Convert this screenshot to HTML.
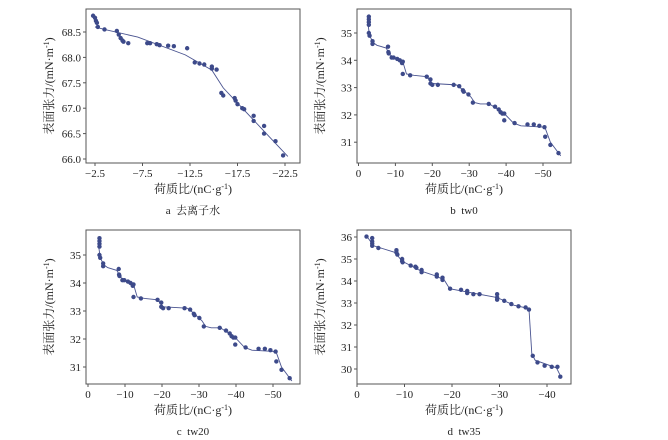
<!DOCTYPE html>
<html><head><meta charset="utf-8"><style>
html,body{margin:0;padding:0;background:#fff}
svg{display:block}
text{font-family:"Liberation Serif","Noto Serif CJK SC",serif;fill:#222}
</style></head><body>
<svg id="s" width="668" height="440" xmlns="http://www.w3.org/2000/svg"></svg>
<script>
const S=document.getElementById('s');let h='';
function panel(o){
 const X=v=>o.x0+(v-o.xv0)*o.sx, Y=v=>o.y0-(v-o.yv0)*o.sy;
 h+=`<rect x="${o.L}" y="${o.T}" width="${o.R-o.L}" height="${o.B-o.T}" fill="none" stroke="#555" stroke-width="1"/>`;
 o.xt.forEach(([v,l])=>{const x=X(v);h+=`<line x1="${x}" y1="${o.B}" x2="${x}" y2="${o.B+3}" stroke="#555"/><text x="${x}" y="${o.B+14}" font-size="11" text-anchor="middle">${l}</text>`});
 o.yt.forEach(([v,l])=>{const y=Y(v);h+=`<line x1="${o.L-3}" y1="${y}" x2="${o.L}" y2="${y}" stroke="#555"/><text x="${o.L-5}" y="${y+4}" font-size="11" text-anchor="end">${l}</text>`});
 h+=`<polyline fill="none" stroke="#4a5490" stroke-width="0.9" points="${o.line.map(p=>X(p[0])+','+Y(p[1])).join(' ')}"/>`;
 o.pts.forEach(p=>{h+=`<circle cx="${X(p[0])}" cy="${Y(p[1])}" r="2.2" fill="#3d4a8a"/>`});
 const cx=(o.L+o.R)/2, cy=(o.T+o.B)/2;
 h+=`<text x="${o.L-33}" y="${cy}" font-size="12" text-anchor="middle" transform="rotate(-90 ${o.L-33} ${cy})">表面张力/(mN·m<tspan font-size="8" dy="-4">-1</tspan><tspan dy="4">)</tspan></text>`;
 h+=`<text x="${cx}" y="${o.B+30}" font-size="12" text-anchor="middle">荷质比/(nC·g<tspan font-size="8" dy="-4">-1</tspan><tspan dy="4">)</tspan></text>`;
 h+=`<text x="${cx}" y="${o.B+51}" font-size="11" text-anchor="middle">${o.cap}</text>`;
}
const a={L:86,R:300,T:9,B:163,x0:95,xv0:2.5,sx:9.5,y0:32,yv0:68.5,sy:50.8,cap:'a&#160;&#160;去离子水',
 xt:[[2.5,'−2.5'],[7.5,'−7.5'],[12.5,'−12.5'],[17.5,'−17.5'],[22.5,'−22.5']],
 yt:[[68.5,'68.5'],[68,'68.0'],[67.5,'67.5'],[67,'67.0'],[66.5,'66.5'],[66,'66.0']],
 line:[[2.5,68.6],[3.5,68.55],[7,68.4],[12,68.05],[14.8,67.75],[16,67.4],[22.8,66.05]],
 pts:[[2.3,68.82],[2.5,68.78],[2.6,68.72],[2.7,68.68],[2.8,68.6],[3.5,68.55],[4.8,68.52],[5.0,68.45],[5.2,68.38],[5.4,68.33],[5.5,68.31],[6.0,68.28],[8.0,68.28],[8.3,68.28],[9.0,68.26],[9.3,68.24],[10.2,68.23],[10.8,68.22],[12.2,68.18],[13,67.9],[13.5,67.88],[14,67.86],[14.8,67.82],[14.8,67.78],[15.3,67.76],[15.8,67.3],[16,67.25],[17.2,67.2],[17.3,67.15],[17.5,67.08],[18,67.0],[18.2,66.98],[19.2,66.85],[19.2,66.75],[20.3,66.65],[20.3,66.5],[21.5,66.35],[22.3,66.07]]};
const bp=[[2.8,35.6],[2.8,35.5],[2.8,35.4],[2.8,35.3],[2.8,35.0],[3,34.9],[3.8,34.7],[3.8,34.6],[8,34.5],[8.1,34.3],[8.2,34.25],[9,34.1],[9.5,34.1],[10.5,34.05],[11.2,34.0],[12,33.95],[11.8,33.9],[12,33.5],[14,33.45],[18.5,33.4],[19.5,33.3],[19.5,33.15],[20,33.1],[21.5,33.1],[25.8,33.1],[27.3,33.05],[28.3,32.9],[28.5,32.85],[29.8,32.75],[31,32.45],[35.3,32.4],[37,32.3],[38,32.2],[38.5,32.1],[39,32.05],[39.5,32.05],[39.5,31.8],[42.3,31.7],[45.8,31.65],[47.5,31.65],[49,31.6],[50.4,31.55],[50.6,31.2],[52,30.9],[54.2,30.6]];
const bl=[[2.5,35.4],[3,34.9],[4,34.65],[5,34.55],[7.5,34.45],[8.5,34.2],[12,33.95],[13,33.5],[15,33.45],[18.5,33.4],[20,33.15],[26.5,33.1],[28,32.95],[30.5,32.65],[31.5,32.45],[33,32.4],[35.5,32.4],[39.5,32.05],[42,31.7],[44,31.6],[50.5,31.55],[52,31.0],[54.8,30.5]];
const xt10=[[0,'0'],[10,'−10'],[20,'−20'],[30,'−30'],[40,'−40'],[50,'−50']];
const yt5=[[35,'35'],[34,'34'],[33,'33'],[32,'32'],[31,'31']];
panel({L:357,R:571,T:9,B:163,x0:358.5,xv0:0,sx:3.69,y0:33,yv0:35,sy:27.3,cap:'b&#160;&#160;tw0',xt:xt10,yt:yt5,line:bl,pts:bp});
panel(a);
panel({L:86,R:300,T:230,B:384,x0:88,xv0:0,sx:3.7,y0:255,yv0:35,sy:28,cap:'c&#160;&#160;tw20',xt:xt10,yt:yt5,line:bl.map(p=>[p[0]+0.3,p[1]]),pts:bp.map(p=>[p[0]+0.3,p[1]])});
panel({L:357,R:571,T:230,B:384,x0:357,xv0:0,sx:4.75,y0:237,yv0:36,sy:22,cap:'d&#160;&#160;tw35',
 xt:[[0,'0'],[10,'−10'],[20,'−20'],[30,'−30'],[40,'−40']],
 yt:[[36,'36'],[35,'35'],[34,'34'],[33,'33'],[32,'32'],[31,'31'],[30,'30']],
 line:[[2,36.05],[3.5,35.6],[8,35.3],[9.5,34.9],[13.5,34.45],[17,34.2],[18.5,34.0],[19.5,33.65],[29.5,33.25],[33,32.9],[36.2,32.75],[36.8,30.7],[37.5,30.4],[42,30.05],[42.8,29.7]],
 pts:[[2,36.02],[3.2,35.95],[3.2,35.8],[3.2,35.7],[3.2,35.6],[4.5,35.5],[8.3,35.4],[8.3,35.3],[8.5,35.2],[9.5,35.0],[9.5,34.9],[9.6,34.85],[11.3,34.7],[12.3,34.65],[12.5,34.6],[13.6,34.5],[13.6,34.4],[16.8,34.3],[16.8,34.2],[18,34.15],[18,34.05],[19.6,33.65],[21.9,33.6],[23.2,33.55],[23.2,33.45],[24.5,33.4],[25.8,33.4],[29.5,33.4],[29.5,33.25],[29.5,33.15],[31,33.1],[32.5,32.95],[34,32.85],[35.5,32.8],[36.2,32.7],[37,30.6],[38,30.3],[39.5,30.15],[41,30.1],[42.2,30.1],[42.8,29.65]]});
S.innerHTML=h;
</script>
</body></html>
